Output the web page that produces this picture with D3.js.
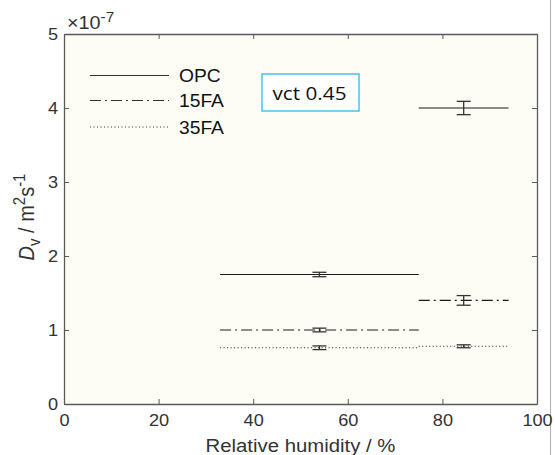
<!DOCTYPE html>
<html><head><meta charset="utf-8">
<script src="https://cdn.jsdelivr.net/npm/d3@7"></script>
<style>body{margin:0;background:#fff}svg{display:block}text{font-family:"Liberation Sans",Arial,sans-serif}</style>
</head><body>
<script>
// Data (D_v in units of 1e-7 m^2/s)
const series = ["OPC", "15FA", "35FA"];
const rhStart = [33, 75];
const rhEnd = [75, 94];
const rhCenter = [54, 84.5];
const opcValues = [1.75, 4.0];
const opcErr = [0.03, 0.09];
const fa15Values = [1.0, 1.4];
const fa15Err = [0.025, 0.065];
const fa35Values = [0.76, 0.78];
const fa35Err = [0.025, 0.02];
const xTicks = [0, 20, 40, 60, 80, 100];
const yTicks = [0, 1, 2, 3, 4, 5];
const dashes = ["none", "11,4,2,4", "1,2.5"];

const W = 555, H = 455;
const m = {l: 64, r: 18, t: 34, b: 51};
const SX = 1.1; // horizontal stretch of glyphs
const svg = d3.select("body").append("svg").attr("width", W).attr("height", H);
const x = d3.scaleLinear().domain([0, 100]).range([m.l, W - m.r]);
const y = d3.scaleLinear().domain([0, 5]).range([H - m.b, m.t]);

// plot background
svg.append("rect").attr("x", x(0)).attr("y", y(5)).attr("width", x(100) - x(0)).attr("height", y(0) - y(5)).attr("fill", "#fdfdf6");
// image right border
svg.append("line").attr("x1", 550.5).attr("x2", 550.5).attr("y1", 0).attr("y2", H).attr("stroke", "#b0b0b0").attr("stroke-width", 1);

const axisColor = "#5a5a5a";
function styleAxis(g, showLabels) {
  g.select(".domain").attr("stroke", axisColor).attr("stroke-width", 1.3);
  g.selectAll(".tick line").attr("stroke", axisColor);
  g.selectAll(".tick text").attr("fill", "#333").attr("font-size", 16.5)
    .style("display", showLabels ? null : "none");
}
const fmt = d3.format("d");
svg.append("g").attr("transform", `translate(0,${y(0)})`)
  .call(d3.axisBottom(x).tickValues(xTicks).tickFormat(fmt).tickSizeInner(-5).tickSizeOuter(0).tickPadding(10))
  .call(g => styleAxis(g, true))
  .call(g => g.selectAll(".tick text").attr("transform", `scale(${SX},1)`));
svg.append("g").attr("transform", `translate(0,${y(5)})`)
  .call(d3.axisTop(x).tickValues(xTicks).tickSizeInner(-5).tickSizeOuter(0))
  .call(g => styleAxis(g, false));
svg.append("g").attr("transform", `translate(${x(0)},0)`)
  .call(d3.axisLeft(y).tickValues(yTicks).tickFormat(fmt).tickSizeInner(-5).tickSizeOuter(0).tickPadding(6))
  .call(g => styleAxis(g, true))
  .call(g => g.selectAll(".tick text").attr("x", 0).attr("transform", `translate(-6,0) scale(${SX},1)`));
svg.append("g").attr("transform", `translate(${x(100)},0)`)
  .call(d3.axisRight(y).tickValues(yTicks).tickSizeInner(-5).tickSizeOuter(0))
  .call(g => styleAxis(g, false));

// exponent label
const ex = svg.append("text").attr("transform", `translate(${x(0) + 3},29) scale(${SX},1)`)
  .attr("fill", "#333").attr("font-size", 18);
ex.append("tspan").text("×10");
ex.append("tspan").attr("dy", -7).attr("font-size", 14).text("-7");

// axis labels
svg.append("text").attr("transform", `translate(${(x(0) + x(100)) / 2},452) scale(${SX},1)`)
  .attr("text-anchor", "middle").attr("fill", "#333").attr("font-size", 18.5).text("Relative humidity / %");
const yl = svg.append("text").attr("transform", `translate(34,${(y(0) + y(5)) / 2 - 2}) rotate(-90) scale(1,${SX})`)
  .attr("text-anchor", "middle").attr("fill", "#333").attr("font-size", 20);
yl.append("tspan").attr("font-style", "italic").text("D");
yl.append("tspan").attr("dy", 5).attr("font-size", 15).text("v");
yl.append("tspan").attr("dy", -5).text(" / m");
yl.append("tspan").attr("dy", -8).attr("font-size", 15).text("2");
yl.append("tspan").attr("dy", 8).text("s");
yl.append("tspan").attr("dy", -8).attr("font-size", 15).text("-1");

// data
const vals = [opcValues, fa15Values, fa35Values];
const errs = [opcErr, fa15Err, fa35Err];
const lineColor = "#1a1a1a";
series.forEach((s, si) => {
  const rows = rhStart.map((a, i) => ({a, b: rhEnd[i], c: rhCenter[i], v: vals[si][i], e: errs[si][i]}));
  const g = svg.append("g");
  g.selectAll("line.seg").data(rows).join("line").attr("class", "seg")
    .attr("x1", d => x(d.a)).attr("x2", d => x(d.b)).attr("y1", d => y(d.v)).attr("y2", d => y(d.v))
    .attr("stroke", lineColor).attr("stroke-width", 1.1).attr("stroke-dasharray", dashes[si]);
  const cap = 7;
  rows.forEach(d => {
    const eg = g.append("g").attr("stroke", "#333").attr("stroke-width", 1.3);
    eg.append("line").attr("x1", x(d.c)).attr("x2", x(d.c)).attr("y1", y(d.v - d.e)).attr("y2", y(d.v + d.e));
    eg.append("line").attr("x1", x(d.c) - cap).attr("x2", x(d.c) + cap).attr("y1", y(d.v - d.e)).attr("y2", y(d.v - d.e));
    eg.append("line").attr("x1", x(d.c) - cap).attr("x2", x(d.c) + cap).attr("y1", y(d.v + d.e)).attr("y2", y(d.v + d.e));
  });
});

// legend
const lg = svg.append("g");
const legY = [75.5, 100.5, 127];
series.forEach((s, i) => {
  lg.append("line").attr("x1", 90).attr("x2", 169).attr("y1", legY[i]).attr("y2", legY[i])
    .attr("stroke", "#333").attr("stroke-width", 1.1).attr("stroke-dasharray", dashes[i]);
  lg.append("text").attr("transform", `translate(179,${legY[i] + 6.5}) scale(${SX},1)`)
    .attr("font-size", 17.5).attr("fill", "#111").text(s);
});

// annotation box
svg.append("rect").attr("x", 262).attr("y", 74).attr("width", 97).attr("height", 37)
  .attr("fill", "#fff").attr("stroke", "#4cc0ee").attr("stroke-width", 1.5);
svg.append("text").attr("transform", `translate(309.5,99.5) scale(1.12,1)`).attr("text-anchor", "middle")
  .style("font-family", "'Open Sans', sans-serif").attr("font-size", 18.5).attr("fill", "#111").text("vct 0.45");
</script>
</body></html>
